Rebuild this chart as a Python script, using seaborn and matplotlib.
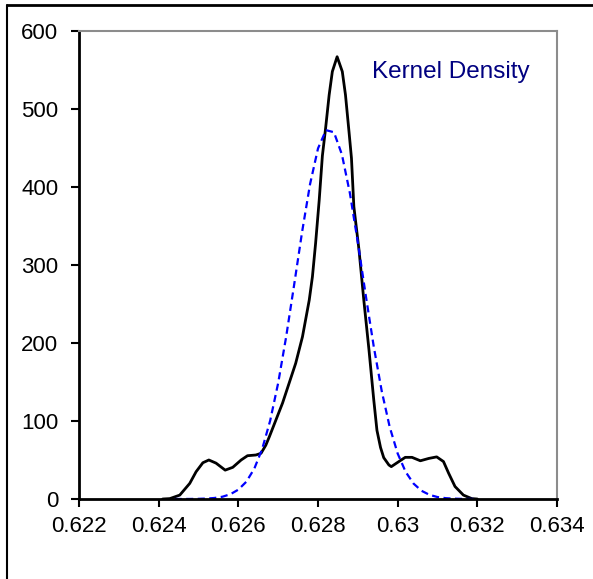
import numpy as np
import pandas as pd
import matplotlib.pyplot as plt
import seaborn as sns
from matplotlib.lines import Line2D

# ---------- Data ----------
kde_x = [0.6241, 0.62428, 0.62453, 0.62478, 0.62494, 0.62511, 0.62526, 0.62544,
         0.62567, 0.62586, 0.62607, 0.62623, 0.62644, 0.62657, 0.62669, 0.62678,
         0.62711, 0.62744, 0.62761, 0.62778, 0.62786, 0.62794, 0.62803, 0.62811,
         0.62819, 0.62828, 0.62836, 0.62848, 0.62861, 0.62869, 0.62878, 0.62884,
         0.6289, 0.62903, 0.62915, 0.62928, 0.6294, 0.62948, 0.62957, 0.62965,
         0.62978, 0.62984, 0.63003, 0.63019, 0.63036, 0.63057, 0.63078, 0.63098,
         0.63115, 0.63128, 0.63144, 0.63165, 0.63186, 0.6320]
kde_y = [0, 0.5, 5, 20, 35, 46.5, 50, 46,
         37, 40.6, 50, 55.5, 56.4, 58.6, 69, 80,
         123, 174, 208, 255, 285, 328, 383, 440,
         475, 518, 548, 567, 548, 518, 470, 437,
         375, 319, 255, 191, 127, 88, 66, 53,
         43.6, 41.5, 48, 53.4, 53.4, 49, 52, 54,
         48, 33, 16, 5, 0.5, 0]

normal_x = [0.6244, 0.6246, 0.6248, 0.6250, 0.6252, 0.6254, 0.6256, 0.6258, 0.6260,
            0.6262, 0.6264, 0.6266, 0.6268, 0.6270, 0.6272, 0.6274, 0.6276, 0.6278,
            0.6280, 0.6282, 0.6284, 0.6286, 0.6288, 0.6290, 0.6292, 0.6294, 0.6296,
            0.6298, 0.6300, 0.6302, 0.6304, 0.6306, 0.6308, 0.6310, 0.6312, 0.6314,
            0.6316, 0.6318, 0.6320]
normal_y = [0.01, 0.03, 0.09, 0.23, 0.57, 1.3, 2.9, 6.1, 12.0,
            22.1, 38.8, 64.3, 100.6, 148.7, 207.8, 274.3, 342.2, 403.5,
            449.4, 472.9, 470.2, 441.7, 392.2, 329.0, 260.7, 195.3, 138.3,
            92.3, 58.3, 34.8, 19.7, 10.5, 5.3, 2.5, 1.1, 0.48,
            0.19, 0.07, 0.03]

x_ticks = [0.622, 0.624, 0.626, 0.628, 0.630, 0.632, 0.634]
x_tick_labels = ["0.622", "0.624", "0.626", "0.628", "0.63", "0.632", "0.634"]
y_ticks = [0, 100, 200, 300, 400, 500, 600]

kde_df = pd.DataFrame({"x": kde_x, "density": kde_y})
normal_df = pd.DataFrame({"x": normal_x, "density": normal_y})

# ---------- Plot ----------
sns.set_style("white")
plt.rcParams["font.family"] = ["Liberation Sans", "DejaVu Sans"]

fig = plt.figure(figsize=(5.93, 5.79), dpi=100)
ax = fig.add_axes([79 / 593, 1 - 499 / 579, (557 - 79) / 593, (499 - 31) / 579])

sns.lineplot(data=kde_df, x="x", y="density", ax=ax, color="black",
             linewidth=2.0, estimator=None, sort=False)
sns.lineplot(data=normal_df, x="x", y="density", ax=ax, color="#0000FF",
             linewidth=1.6, estimator=None, sort=False)
ax.lines[0].set_solid_joinstyle("round")
ax.lines[-1].set_dashes((3.2, 2))

ax.set_xlim(0.622, 0.634)
ax.set_ylim(0, 600)
ax.set_xticks(x_ticks)
ax.set_xticklabels(x_tick_labels)
ax.set_yticks(y_ticks)
ax.set_xlabel("")
ax.set_ylabel("")

ax.tick_params(axis="both", which="major", labelsize=16, direction="out",
               length=6, width=1.5, color="black", labelcolor="black")
ax.tick_params(axis="x", pad=6)
ax.tick_params(axis="y", pad=9)
ax.tick_params(top=False, right=False, bottom=True, left=True)

for side in ["left", "bottom"]:
    ax.spines[side].set_color("black")
    ax.spines[side].set_linewidth(2.0)
for side in ["top", "right"]:
    ax.spines[side].set_color("#8c8c8c")
    ax.spines[side].set_linewidth(1.5)
for side in ax.spines:
    ax.spines[side].set_visible(True)

ax.text(0.613, 0.912, "Kernel Density", transform=ax.transAxes,
        color="#000080", fontsize=17.5, ha="left", va="center")

# outer frame (top and left edges visible)
fig.add_artist(Line2D([7 / 593, 1], [1 - 5 / 579, 1 - 5 / 579],
                      transform=fig.transFigure, color="black", linewidth=2))
fig.add_artist(Line2D([7 / 593, 7 / 593], [0, 1 - 5 / 579],
                      transform=fig.transFigure, color="black", linewidth=1.5))

plt.savefig("out.png", dpi=100)
